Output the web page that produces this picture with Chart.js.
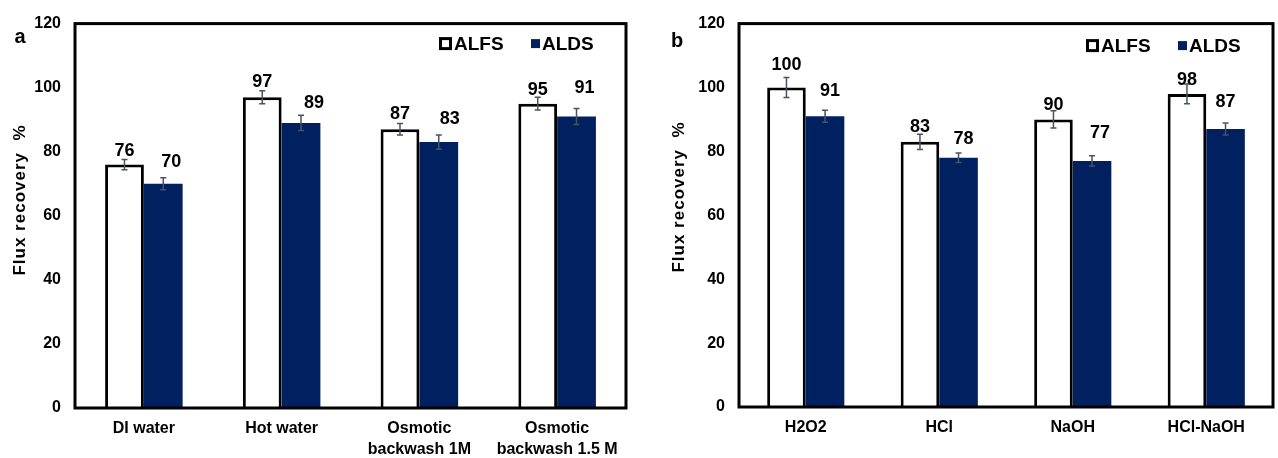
<!DOCTYPE html>
<html>
<head>
<meta charset="utf-8">
<script src="https://cdn.jsdelivr.net/npm/chart.js@4.4.1/dist/chart.umd.min.js"></script>
<style>
  body { margin: 0; background: #fff; }
  .painel { position: absolute; top: 0; height: 458px; }
  #painelA { left: 0; width: 640px; }
  #painelB { left: 640px; width: 638px; }
</style>
</head>
<body>
<div class="painel" id="painelA"><canvas id="chartA" width="640" height="458"></canvas></div>
<div class="painel" id="painelB"><canvas id="chartB" width="638" height="458"></canvas></div>
<script>
// dados do painel a
const labelsA = ['DI water', 'Hot water', ['Osmotic', 'backwash 1M'], ['Osmotic', 'backwash 1.5 M']];
const alfsA = [76, 97, 87, 95];
const aldsA = [70, 89, 83, 91];
const alfsErrA = [1.6, 2.0, 1.8, 2.0];
const aldsErrA = [1.9, 2.4, 2.2, 2.5];

// dados do painel b
const labelsB = ['H2O2', 'HCl', 'NaOH', 'HCl-NaOH'];
const alfsB = [100, 83, 90, 98];
const aldsB = [91, 78, 77, 87];
const alfsErrB = [3.1, 2.4, 2.7, 3.1];
const aldsErrB = [1.9, 1.5, 1.6, 1.9];

const yTicks = [0, 20, 40, 60, 80, 100, 120];
const seriesNames = ['ALFS', 'ALDS'];

const FONT = '"Liberation Sans", Arial, sans-serif';
const NAVY = '#002060';
Chart.defaults.font.family = FONT;
Chart.defaults.color = '#000';

// moldura, barras de erro, rotulos, legenda, titulo do eixo
const extras = {
  id: 'extras',
  afterDatasetsDraw(chart, args, o) {
    const ctx = chart.ctx, area = chart.chartArea, y = chart.scales.y;
    ctx.save();
    ctx.strokeStyle = '#000';
    ctx.lineWidth = 3;
    ctx.strokeRect(area.left, area.top, area.width, area.height);

    chart.data.datasets.forEach((ds, d) => {
      chart.getDatasetMeta(d).data.forEach((bar, i) => {
        const v = ds.data[i], e = ds.err[i];
        const top = y.getPixelForValue(v + e), bot = y.getPixelForValue(v - e);
        ctx.strokeStyle = '#4b5260';
        ctx.lineWidth = 1.5;
        ctx.beginPath();
        ctx.moveTo(bar.x, top); ctx.lineTo(bar.x, bot);
        ctx.moveTo(bar.x - 3, top); ctx.lineTo(bar.x + 3, top);
        ctx.moveTo(bar.x - 3, bot); ctx.lineTo(bar.x + 3, bot);
        ctx.stroke();

        ctx.fillStyle = '#000';
        ctx.font = 'bold 18px ' + FONT;
        ctx.textAlign = 'center';
        ctx.textBaseline = 'middle';
        ctx.fillText(String(v), bar.x + o.dx[d][i], bar.y - o.dy[d][i]);
      });
    });

    // legenda
    const ly = area.top + o.legendDy;
    const m1 = area.right - 187;
    ctx.lineWidth = 3;
    ctx.strokeStyle = '#000';
    ctx.fillStyle = '#fff';
    ctx.fillRect(m1 + 1.5, ly - 5, 10, 10);
    ctx.strokeRect(m1 + 1.5, ly - 5, 10, 10);
    const m2 = area.right - 95;
    ctx.fillStyle = NAVY;
    ctx.fillRect(m2, ly - 4.5, 9, 9);
    ctx.fillStyle = '#000';
    ctx.font = 'bold 19px ' + FONT;
    ctx.textAlign = 'left';
    ctx.textBaseline = 'middle';
    ctx.fillText(seriesNames[0], m1 + 15, ly + 1);
    ctx.fillText(seriesNames[1], m2 + 11, ly + 1);

    // letra do painel
    ctx.font = 'bold 20px ' + FONT;
    ctx.textAlign = 'center';
    ctx.textBaseline = 'alphabetic';
    ctx.fillText(o.letter, o.letterX, o.letterY);

    // titulo do eixo y
    ctx.translate(o.titleX, o.titleY);
    ctx.rotate(-Math.PI / 2);
    ctx.font = 'bold 17px ' + FONT;
    ctx.letterSpacing = '1px';
    ctx.textBaseline = 'middle';
    ctx.fillText('Flux recovery  %', 0, 0);
    ctx.restore();
  }
};

function makeConfig(labels, alfs, alds, alfsErr, aldsErr, cat, lay, extra) {
  return {
    type: 'bar',
    data: {
      labels: labels,
      datasets: [{
        label: seriesNames[0],
        data: alfs,
        err: alfsErr,
        backgroundColor: '#fff',
        borderColor: '#000',
        borderWidth: 3,
        categoryPercentage: cat,
        barPercentage: 1
      }, {
        label: seriesNames[1],
        data: alds,
        err: aldsErr,
        backgroundColor: NAVY,
        borderWidth: 0,
        categoryPercentage: cat,
        barPercentage: 1
      }]
    },
    options: {
      responsive: false,
      animation: false,
      layout: { padding: { top: lay.top, right: lay.right, left: 0, bottom: 0 } },
      plugins: {
        legend: { display: false },
        tooltip: { enabled: false },
        extras: extra
      },
      scales: {
        x: {
          grid: { display: false },
          border: { display: false },
          ticks: {
            font: { size: 16, weight: 'bold', lineHeight: 1.3 },
            color: '#000',
            padding: 2,
            maxRotation: 0,
            autoSkip: false
          },
          afterFit: (s) => { s.height = lay.xh; }
        },
        y: {
          min: 0,
          max: 120,
          afterBuildTicks: (s) => { s.ticks = yTicks.map(v => ({ value: v })); },
          grid: { display: false, drawTicks: false },
          border: { display: false },
          ticks: {
            font: { size: 16, weight: 'bold' },
            color: '#000',
            padding: 14
          },
          afterFit: (s) => { s.width = lay.yw; }
        }
      }
    },
    plugins: [extras]
  };
}

const chartA = new Chart(
  document.getElementById('chartA'),
  makeConfig(labelsA, alfsA, aldsA, alfsErrA, aldsErrA, 0.563,
    { top: 17, right: 14, yw: 75, xh: 50 },
    { dx: [[0, 0, 0, 0], [8, 13, 11, 8]], dy: [[14, 15, 15, 14], [22, 20, 23, 28]],
      legendDy: 20, letter: 'a', letterX: 20, letterY: 43, titleX: 20.5, titleY: 200 })
);

const chartB = new Chart(
  document.getElementById('chartB'),
  makeConfig(labelsB, alfsB, aldsB, alfsErrB, aldsErrB, 0.578,
    { top: 20, right: 5, yw: 99, xh: 51 },
    { dx: [[0, 0, 0, 0], [5, 5, 8, 0]], dy: [[22, 15, 14, 14], [25, 19, 28, 27]],
      legendDy: 22, letter: 'b', letterX: 37, letterY: 47, titleX: 39.5, titleY: 197 })
);
</script>
</body>
</html>
